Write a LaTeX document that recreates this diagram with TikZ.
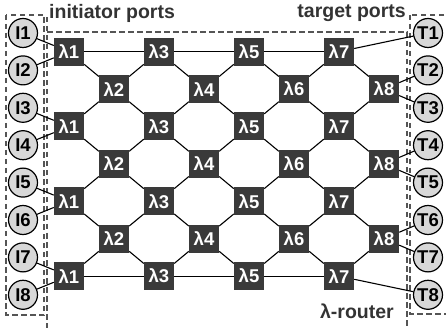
\documentclass[tikz,border=0pt]{standalone}
\usepackage{fontspec}
\setmainfont{Liberation Sans}
\definecolor{boxgray}{HTML}{3A3A3A}
\definecolor{portgray}{HTML}{D8D8D8}
\definecolor{dashgray}{HTML}{555555}
\definecolor{lblgray}{HTML}{333333}
\begin{document}
\begin{tikzpicture}[x=1pt,y=-1pt,
  lam/.style={fill=boxgray, text=white, minimum width=30pt, minimum height=28pt, inner sep=0pt, font=\fontsize{18.5}{18.5}\selectfont\bfseries},
  port/.style={circle, draw=black, line width=1.2pt, fill=portgray, minimum size=29pt, inner sep=0pt, font=\fontsize{18.5}{18.5}\selectfont\bfseries},
  link/.style={line width=1.1pt},
  region/.style={draw=dashgray, dash pattern=on 5.5pt off 3.5pt, line width=1.2pt},
  lbl/.style={font=\fontsize{19.5}{19.5}\selectfont\bfseries, text=lblgray, inner sep=0pt}]
\useasboundingbox (0,0) rectangle (446,328);
\clip (0,0) rectangle (446,328);
% dashed regions
\draw[region] (6,15) rectangle (44,315);
\draw[region] (410,15) rectangle (452,314);
\draw[region] (47,17) -- (47,335);
\draw[region] (47,32) -- (407,32) -- (407,335);
% labels
\node[lbl, anchor=base west] (lin) at (49,18.5) {initiator ports};
\node[lbl, anchor=base east] (ltg) at (406,18) {target ports};
\node[lbl, anchor=base east] (lrt) at (394,318) {λ-router};
% ports
\foreach \k in {1,...,8} {
  \pgfmathsetmacro{\py}{33+37.4*(\k-1)}
  \node[port] (I\k) at (23,\py) {I\k};
  \node[port] (T\k) at (428,\py) {T\k};
}
% odd columns
\foreach \c in {1,3,5,7} {
  \foreach \j in {0,...,3} {
    \pgfmathsetmacro{\px}{69+45*(\c-1)}
    \pgfmathsetmacro{\py}{51.7+74.8*\j}
    \node[lam] (o\c-\j) at (\px,\py) {λ\c};
  }
}
% even columns
\foreach \c in {2,4,6,8} {
  \foreach \j in {0,...,2} {
    \pgfmathsetmacro{\px}{69+45*(\c-1)}
    \pgfmathsetmacro{\py}{89.1+74.8*\j}
    \node[lam] (e\c-\j) at (\px,\py) {λ\c};
  }
}
% horizontal rails
\draw[link] (o1-0) -- (o3-0) -- (o5-0) -- (o7-0);
\draw[link] (o1-3) -- (o3-3) -- (o5-3) -- (o7-3);
% mesh diagonals
\foreach \c in {2,4,6} {
  \foreach \j in {0,...,2} {
    \pgfmathtruncatemacro{\l}{\c-1}
    \pgfmathtruncatemacro{\r}{\c+1}
    \pgfmathtruncatemacro{\n}{\j+1}
    \draw[link] (e\c-\j) -- (o\l-\j);
    \draw[link] (e\c-\j) -- (o\l-\n);
    \draw[link] (e\c-\j) -- (o\r-\j);
    \draw[link] (e\c-\j) -- (o\r-\n);
  }
}
\foreach \j in {0,...,2} {
  \pgfmathtruncatemacro{\n}{\j+1}
  \pgfmathtruncatemacro{\ta}{2*\j+2}
  \pgfmathtruncatemacro{\tb}{2*\j+3}
  \draw[link] (e8-\j) -- (o7-\j);
  \draw[link] (e8-\j) -- (o7-\n);
  \draw[link] (e8-\j) -- (T\ta);
  \draw[link] (e8-\j) -- (T\tb);
}
% initiator links
\foreach \j in {0,...,3} {
  \pgfmathtruncatemacro{\ia}{2*\j+1}
  \pgfmathtruncatemacro{\ib}{2*\j+2}
  \draw[link] (I\ia) -- (o1-\j);
  \draw[link] (I\ib) -- (o1-\j);
}
\draw[link] (o7-0) -- (T1);
\draw[link] (o7-3) -- (T8);
\end{tikzpicture}
\end{document}
